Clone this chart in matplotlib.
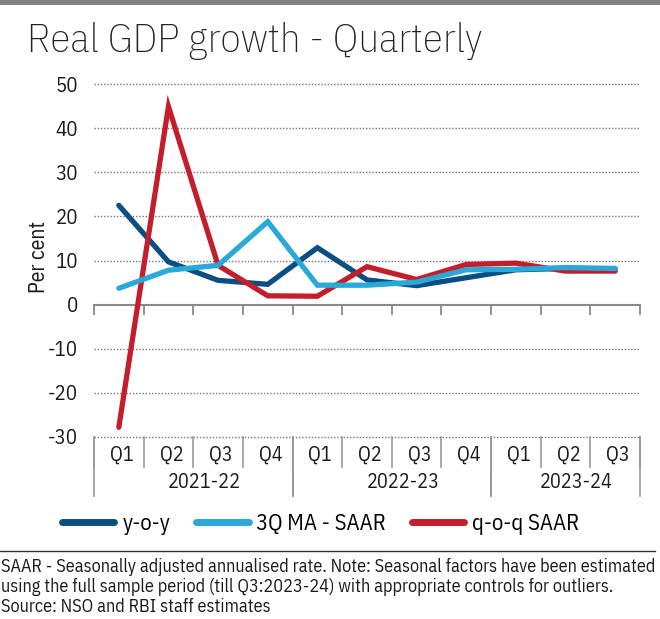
import matplotlib
matplotlib.use("Agg")
import matplotlib.pyplot as plt
import matplotlib.transforms as mtransforms
from matplotlib.lines import Line2D
from matplotlib.patches import Rectangle
from matplotlib import font_manager as fm

quarters = ["Q1", "Q2", "Q3", "Q4", "Q1", "Q2", "Q3", "Q4", "Q1", "Q2", "Q3"]
years = ["2021-22", "2022-23", "2023-24"]
year_sizes = [4, 4, 3]
yoy = [22.5, 9.7, 5.5, 4.6, 12.9, 5.6, 4.3, 6.1, 7.9, 8.2, 8.1]
ma3 = [3.7, 7.8, 8.9, 18.8, 4.4, 4.4, 5.1, 7.9, 8.0, 8.4, 8.2]
qoq = [-27.8, 44.9, 8.9, 2.0, 1.9, 8.6, 5.7, 9.1, 9.4, 7.6, 7.6]
yticks = [-30, -20, -10, 0, 10, 20, 30, 40, 50]
series_names = ["y-o-y", "3Q MA - SAAR", "q-o-q SAAR"]
footnotes = [
    "SAAR - Seasonally adjusted annualised rate. Note: Seasonal factors have been estimated",
    "using the full sample period (till Q3:2023-24) with appropriate controls for outliers.",
    "Source: NSO and RBI staff estimates",
]

available = {f.name for f in fm.fontManager.ttflist}
def pick(prefs):
    for p in prefs:
        if p in available:
            return p
    return "DejaVu Sans"

BODY = pick(["IBM Plex Sans Condensed", "Roboto Condensed", "PT Sans Narrow",
             "Fira Sans Condensed", "Sofia Sans Semi Condensed", "Encode Sans Semi Condensed"])
FONT = [BODY, "DejaVu Sans"]
plt.rcParams["font.family"] = FONT

W, H = 660, 619
fig = plt.figure(figsize=(W / 100, H / 100), dpi=100)
fig.patch.set_facecolor("white")

fig.add_artist(Rectangle((0, 1 - 5 / H), 1, 5 / H, transform=fig.transFigure,
                         color="#808080", lw=0))

fig.text(27 / W, 1 - 41 / H, "Real GDP growth - Quarterly", fontsize=29.5,
         fontweight="light", family=FONT, color="#222222",
         va="center", ha="left")

ax = fig.add_axes([94 / W, 1 - 437 / H, 546 / W, 353 / H])
x = list(range(len(quarters)))
c_dark, c_light, c_red = "#0b4f82", "#28a9d8", "#c41e2c"
l1, = ax.plot(x, yoy, color=c_dark, lw=3.8, solid_capstyle="round", solid_joinstyle="miter", zorder=3)
l3, = ax.plot(x, qoq, color=c_red, lw=3.8, solid_capstyle="round", solid_joinstyle="miter", zorder=4)
l2, = ax.plot(x, ma3, color=c_light, lw=3.8, solid_capstyle="round", solid_joinstyle="miter", zorder=5)

ax.set_xlim(-0.5, len(quarters) - 0.5)
ax.set_ylim(min(yticks), max(yticks))
ax.set_yticks(yticks)
ax.set_yticklabels([str(v) for v in yticks])
ax.tick_params(axis="y", length=0, labelsize=15, pad=11.5, labelcolor="#1a1a1a")
for s in ["left", "right", "top"]:
    ax.spines[s].set_visible(False)
ax.spines["bottom"].set_position(("data", 0))
ax.spines["bottom"].set_color("#8a8a8a")
ax.spines["bottom"].set_linewidth(1.5)
ax.spines["bottom"].set_zorder(2)
ax.set_xticks([i - 0.5 for i in range(len(quarters) + 1)])
ax.set_xticklabels([])
ax.tick_params(axis="x", length=7, width=1.3, color="#8a8a8a", direction="out")

for v in yticks:
    if v != 0:
        ax.axhline(v, color="#777777", lw=1.0, ls=(0, (1, 1.3)), zorder=1, clip_on=False)

ax.set_ylabel("Per cent", fontsize=15.5, color="#1a1a1a")
ax.yaxis.set_label_coords(-0.081, 0.51)

tr = mtransforms.blended_transform_factory(ax.transData, ax.transAxes)
tr_q = tr + mtransforms.ScaledTranslation(3 / 100, 0, fig.dpi_scale_trans)
tr_y = tr + mtransforms.ScaledTranslation(11 / 100, 0, fig.dpi_scale_trans)
px = 1 / 353
for i in range(len(quarters) + 1):
    ax.plot([i - 0.5, i - 0.5], [0, -30 * px], transform=tr, color="#999999",
            lw=1.2, clip_on=False)
for i, q in enumerate(quarters):
    ax.text(i, -18 * px, q, transform=tr_q, ha="center", va="center",
            fontsize=14.5, color="#1a1a1a")
start = 0
for yname, n in zip(years, year_sizes):
    b0 = start - 0.5
    b1 = start + n - 0.5
    for b in (b0, b1):
        ax.plot([b, b], [0, -59 * px], transform=tr, color="#999999", lw=1.2, clip_on=False)
    ax.text((b0 + b1) / 2, -45.5 * px, yname, transform=tr_y, ha="center", va="center",
            fontsize=14.5, color="#1a1a1a")
    start += n

leg = fig.legend([l1, l2, l3], series_names, loc="center", ncol=3,
                 bbox_to_anchor=(321 / W, 1 - 524 / H), frameon=False,
                 fontsize=16.3, handlelength=2.3, handletextpad=0.35,
                 columnspacing=1.15)
for h in leg.legend_handles:
    h.set_linewidth(5)
    h.set_solid_capstyle("round")

fig.add_artist(Line2D([0, 655 / W], [1 - 551 / H] * 2, color="#333333", lw=1.0,
                      transform=fig.transFigure))
for k, t in enumerate(footnotes):
    fig.text(1 / W, 1 - (567 + 20 * k) / H, t, fontsize=13.1, color="#1a1a1a",
             va="center", ha="left")

fig.savefig("out.png", dpi=100)
